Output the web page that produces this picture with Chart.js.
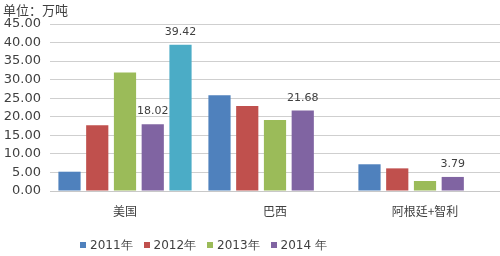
<!DOCTYPE html>
<html>
<head>
<meta charset="utf-8">
<script src="https://cdn.jsdelivr.net/npm/chart.js@4/dist/chart.umd.min.js"></script>
<style>
  html, body { margin: 0; padding: 0; background: #ffffff; }
  #wrap { position: relative; width: 500px; height: 256px; overflow: hidden; }
  #title { position: absolute; left: 3px; top: 2px; font: 13px 'Noto Sans CJK SC', sans-serif; color: #404040; line-height: 16px; }
  #legend { position: absolute; left: 0; top: 237px; width: 500px; height: 16px; font: 12px 'DejaVu Sans', sans-serif; color: #404040; }
  .li { position: absolute; top: 0; height: 16px; line-height: 16px; white-space: nowrap; }
  .sw { position: absolute; left: 0; top: 5px; width: 6px; height: 6px; }
  .lt { position: absolute; left: 10px; top: 0; }
</style>
</head>
<body>
<div id="wrap">
  <canvas id="c" width="500" height="256"></canvas>
  <div id="title">单位：万吨</div>
  <div id="legend"></div>
</div>
<script>
// ---- data ----
const categories = ['美国', '巴西', '阿根廷+智利'];
const seriesNames = ['2011年', '2012年', '2013年', '2014 年', ''];
const s2011 = [5.2, 25.8, 7.2];
const s2012 = [17.7, 22.9, 6.1];
const s2013 = [31.9, 19.1, 2.7];
const s2014 = [18.02, 21.68, 3.79];
const sExtra = [39.42, null, null];
const yTicks = [0, 5, 10, 15, 20, 25, 30, 35, 40, 45];
// labelled values: [seriesIndex, categoryIndex]
const labelled = [[3, 0], [4, 0], [3, 1], [3, 2]];

const colors = ['#4F81BD', '#C0504D', '#9BBB59', '#8064A2', '#4BACC6'];
const seriesData = [s2011, s2012, s2013, s2014, sExtra];

const datasets = seriesData.map((d, i) => ({
  label: seriesNames[i],
  data: d,
  backgroundColor: colors[i],
  borderWidth: 0,
  categoryPercentage: 0.925,
  barPercentage: 0.8
}));

const labelPlugin = {
  id: 'valLabels',
  afterDatasetsDraw(chart) {
    const ctx = chart.ctx;
    ctx.save();
    ctx.font = "11px 'DejaVu Sans', sans-serif";
    ctx.fillStyle = '#404040';
    ctx.textAlign = 'center';
    ctx.textBaseline = 'middle';
    labelled.forEach(([si, ci]) => {
      const el = chart.getDatasetMeta(si).data[ci];
      const v = seriesData[si][ci];
      ctx.fillText(v.toFixed(2), el.x, el.y - 12.5);
    });
    ctx.restore();
  }
};

Chart.defaults.font.family = "'DejaVu Sans', sans-serif";
Chart.defaults.color = '#404040';

new Chart(document.getElementById('c'), {
  type: 'bar',
  data: { labels: categories, datasets },
  options: {
    responsive: false,
    animation: false,
    devicePixelRatio: 1,
    layout: { padding: { top: 24, left: 0, right: 0, bottom: 0 } },
    plugins: { legend: { display: false }, tooltip: { enabled: false } },
    scales: {
      x: {
        grid: { display: false, drawTicks: false },
        border: { display: true, color: '#c8c8c8', width: 1 },
        ticks: { font: { size: 12, family: "'Noto Sans CJK SC', sans-serif" }, color: '#404040', padding: 13, maxRotation: 0 },
        afterFit(scale) { scale.height = 65; }
      },
      y: {
        min: 0, max: 45,
        afterBuildTicks(scale) { scale.ticks = yTicks.map(v => ({ value: v })); },
        grid: { color: '#cfcfcf', lineWidth: 1, drawTicks: false },
        border: { display: false },
        ticks: { autoSkip: false, font: { size: 13 }, color: '#404040', padding: 9, callback: v => Number(v).toFixed(2) },
        afterFit(scale) { scale.width = 50; }
      }
    }
  },
  plugins: [labelPlugin]
});

// legend (4 visible series)
const leg = document.getElementById('legend');
for (let i = 0; i < 4; i++) {
  const it = document.createElement('div');
  it.className = 'li';
  it.style.left = (80 + i * 63.5) + 'px';
  const sw = document.createElement('div');
  sw.className = 'sw';
  sw.style.background = colors[i];
  const t = document.createElement('span');
  t.className = 'lt';
  t.textContent = seriesNames[i];
  it.appendChild(sw); it.appendChild(t);
  leg.appendChild(it);
}
</script>
</body>
</html>
